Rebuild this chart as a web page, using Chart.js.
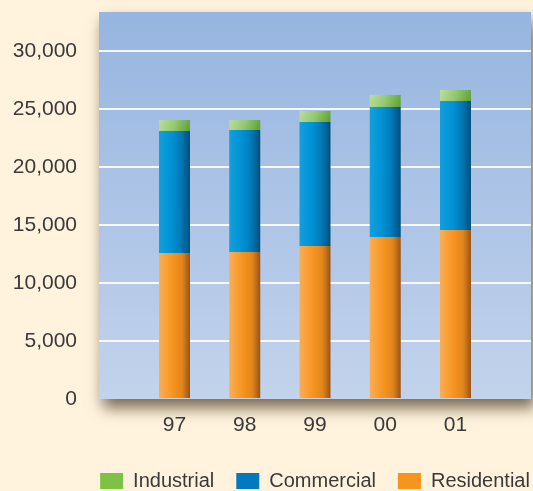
<!DOCTYPE html>
<html>
<head>
<meta charset="utf-8">
<script src="https://cdn.jsdelivr.net/npm/chart.js@4"></script>
<style>
  html, body { margin: 0; padding: 0; background: #FFF3DE; }
  #wrap { width: 533px; height: 491px; }
</style>
</head>
<body>
<div id="wrap"><canvas id="chart" width="533" height="491"></canvas></div>
<script>
const categories = ['97', '98', '99', '00', '01'];
const residential = [12590, 12670, 13190, 13970, 14570];
const commercial = [10510, 10520, 10690, 11200, 11120];
const industrial = [950, 860, 950, 1040, 950];
const yTicks = [0, 5000, 10000, 15000, 20000, 25000, 30000];

const BAR_PCT = 0.441;
const textColor = '#3a3a3a';

// shading stops for the round-looking bars
const orangeStops = [[0, '#FAAE55'], [0.45, '#F7931E'], [0.75, '#E0851C'], [1, '#985316']];
const blueStops = [[0, '#12A0DC'], [0.4, '#0092D5'], [0.7, '#0079B8'], [1, '#00507C']];
const greenStops = [[0, '#BADE9C'], [0.5, '#93C870'], [1, '#5D9F33']];

const series = [residential, commercial, industrial];

function barGradient(stops, dsIndex, diagonal) {
  return (c) => {
    const chart = c.chart;
    if (!chart.chartArea || c.type !== 'data') return stops[1][1];
    const xs = chart.scales.x, ys = chart.scales.y;
    const i = c.dataIndex;
    const cx = xs.getPixelForValue(i);
    const half = (xs.getPixelForValue(1) - xs.getPixelForValue(0)) * BAR_PCT / 2;
    let g;
    if (diagonal) {
      let base = 0;
      for (let k = 0; k < dsIndex; k++) base += series[k][i];
      const yTop = ys.getPixelForValue(base + series[dsIndex][i]);
      const yBot = ys.getPixelForValue(base);
      g = chart.ctx.createLinearGradient(cx - half, yTop, cx + half, yBot);
    } else {
      g = chart.ctx.createLinearGradient(cx - half, 0, cx + half, 0);
    }
    stops.forEach(s => g.addColorStop(s[0], s[1]));
    return g;
  };
}

const legendItems = [
  { text: 'Industrial', color: '#7DC242' },
  { text: 'Commercial', color: '#0079C1' },
  { text: 'Residential', color: '#F7941D' }
];

const plotBackground = {
  id: 'plotBackground',
  afterLayout(chart) {
    // center the legend under the plot rather than the whole canvas
    const l = chart.legend;
    if (l) {
      const dx = (chart.chartArea.left + chart.chartArea.right) / 2 - (l.left + l.right) / 2;
      l.left += dx;
      l.right += dx;
    }
  },
  beforeDraw(chart) {
    const { ctx, chartArea: a } = chart;
    ctx.save();
    ctx.fillStyle = '#FFF3DE';
    ctx.fillRect(0, 0, chart.width, chart.height);
    ctx.shadowColor = 'rgba(75, 60, 35, 0.75)';
    ctx.shadowBlur = 14;
    ctx.shadowOffsetX = 4;
    ctx.shadowOffsetY = 9;
    const g = ctx.createLinearGradient(0, a.top, 0, a.bottom);
    g.addColorStop(0, '#96B5E0');
    g.addColorStop(1, '#C3D3EC');
    ctx.fillStyle = g;
    ctx.fillRect(a.left, a.top, a.right - a.left, a.bottom - a.top);
    ctx.restore();
  }
};

const noScalePadding = s => {
  s.paddingTop = 0; s.paddingBottom = 0;
  s.paddingLeft = 0; s.paddingRight = 0;
};

const toPoints = arr => arr.map((v, i) => ({ x: i, y: v }));

new Chart(document.getElementById('chart'), {
  type: 'bar',
  data: {
    datasets: [
      { label: 'Residential', data: toPoints(residential), backgroundColor: barGradient(orangeStops, 0, false) },
      { label: 'Commercial', data: toPoints(commercial), backgroundColor: barGradient(blueStops, 1, false) },
      { label: 'Industrial', data: toPoints(industrial), backgroundColor: barGradient(greenStops, 2, true) }
    ]
  },
  options: {
    responsive: false,
    animation: false,
    barPercentage: BAR_PCT,
    categoryPercentage: 1,
    layout: { padding: { top: 12, right: 2, left: 0, bottom: -10 } },
    scales: {
      x: {
        type: 'linear',
        stacked: true,
        offset: false,
        min: -1.075,
        max: categories.length - 1 + 1.075,
        grid: { display: false, drawTicks: false },
        border: { display: false },
        afterFit: s => { s.height = 50; noScalePadding(s); },
        ticks: {
          stepSize: 1,
          autoSkip: false,
          includeBounds: false,
          padding: 14,
          color: textColor,
          font: { family: 'Liberation Sans, Arial, sans-serif', size: 21 },
          callback: v => (Number.isInteger(v) && categories[v] !== undefined) ? categories[v] : ''
        }
      },
      y: {
        stacked: true,
        min: 0,
        max: 33360,
        afterFit: s => { s.width = 99; noScalePadding(s); },
        afterBuildTicks: s => { s.ticks = yTicks.map(v => ({ value: v })); },
        grid: {
          drawTicks: false,
          lineWidth: 2,
          color: c => c.tick && c.tick.value === 0 ? 'rgba(0,0,0,0)' : 'rgba(255,255,255,0.9)'
        },
        border: { display: false },
        ticks: {
          padding: 22,
          color: textColor,
          font: { family: 'Liberation Sans, Arial, sans-serif', size: 21 },
          callback: v => v.toLocaleString('en-US')
        }
      }
    },
    plugins: {
      tooltip: { enabled: false },
      legend: {
        position: 'bottom',
        labels: {
          boxWidth: 23,
          boxHeight: 16,
          padding: 22,
          color: textColor,
          font: { family: 'Liberation Sans, Arial, sans-serif', size: 20 },
          generateLabels: () => legendItems.map(item => ({
            text: item.text,
            fillStyle: item.color,
            strokeStyle: item.color,
            lineWidth: 0,
            fontColor: textColor
          }))
        }
      }
    }
  },
  plugins: [plotBackground]
});
</script>
</body>
</html>
